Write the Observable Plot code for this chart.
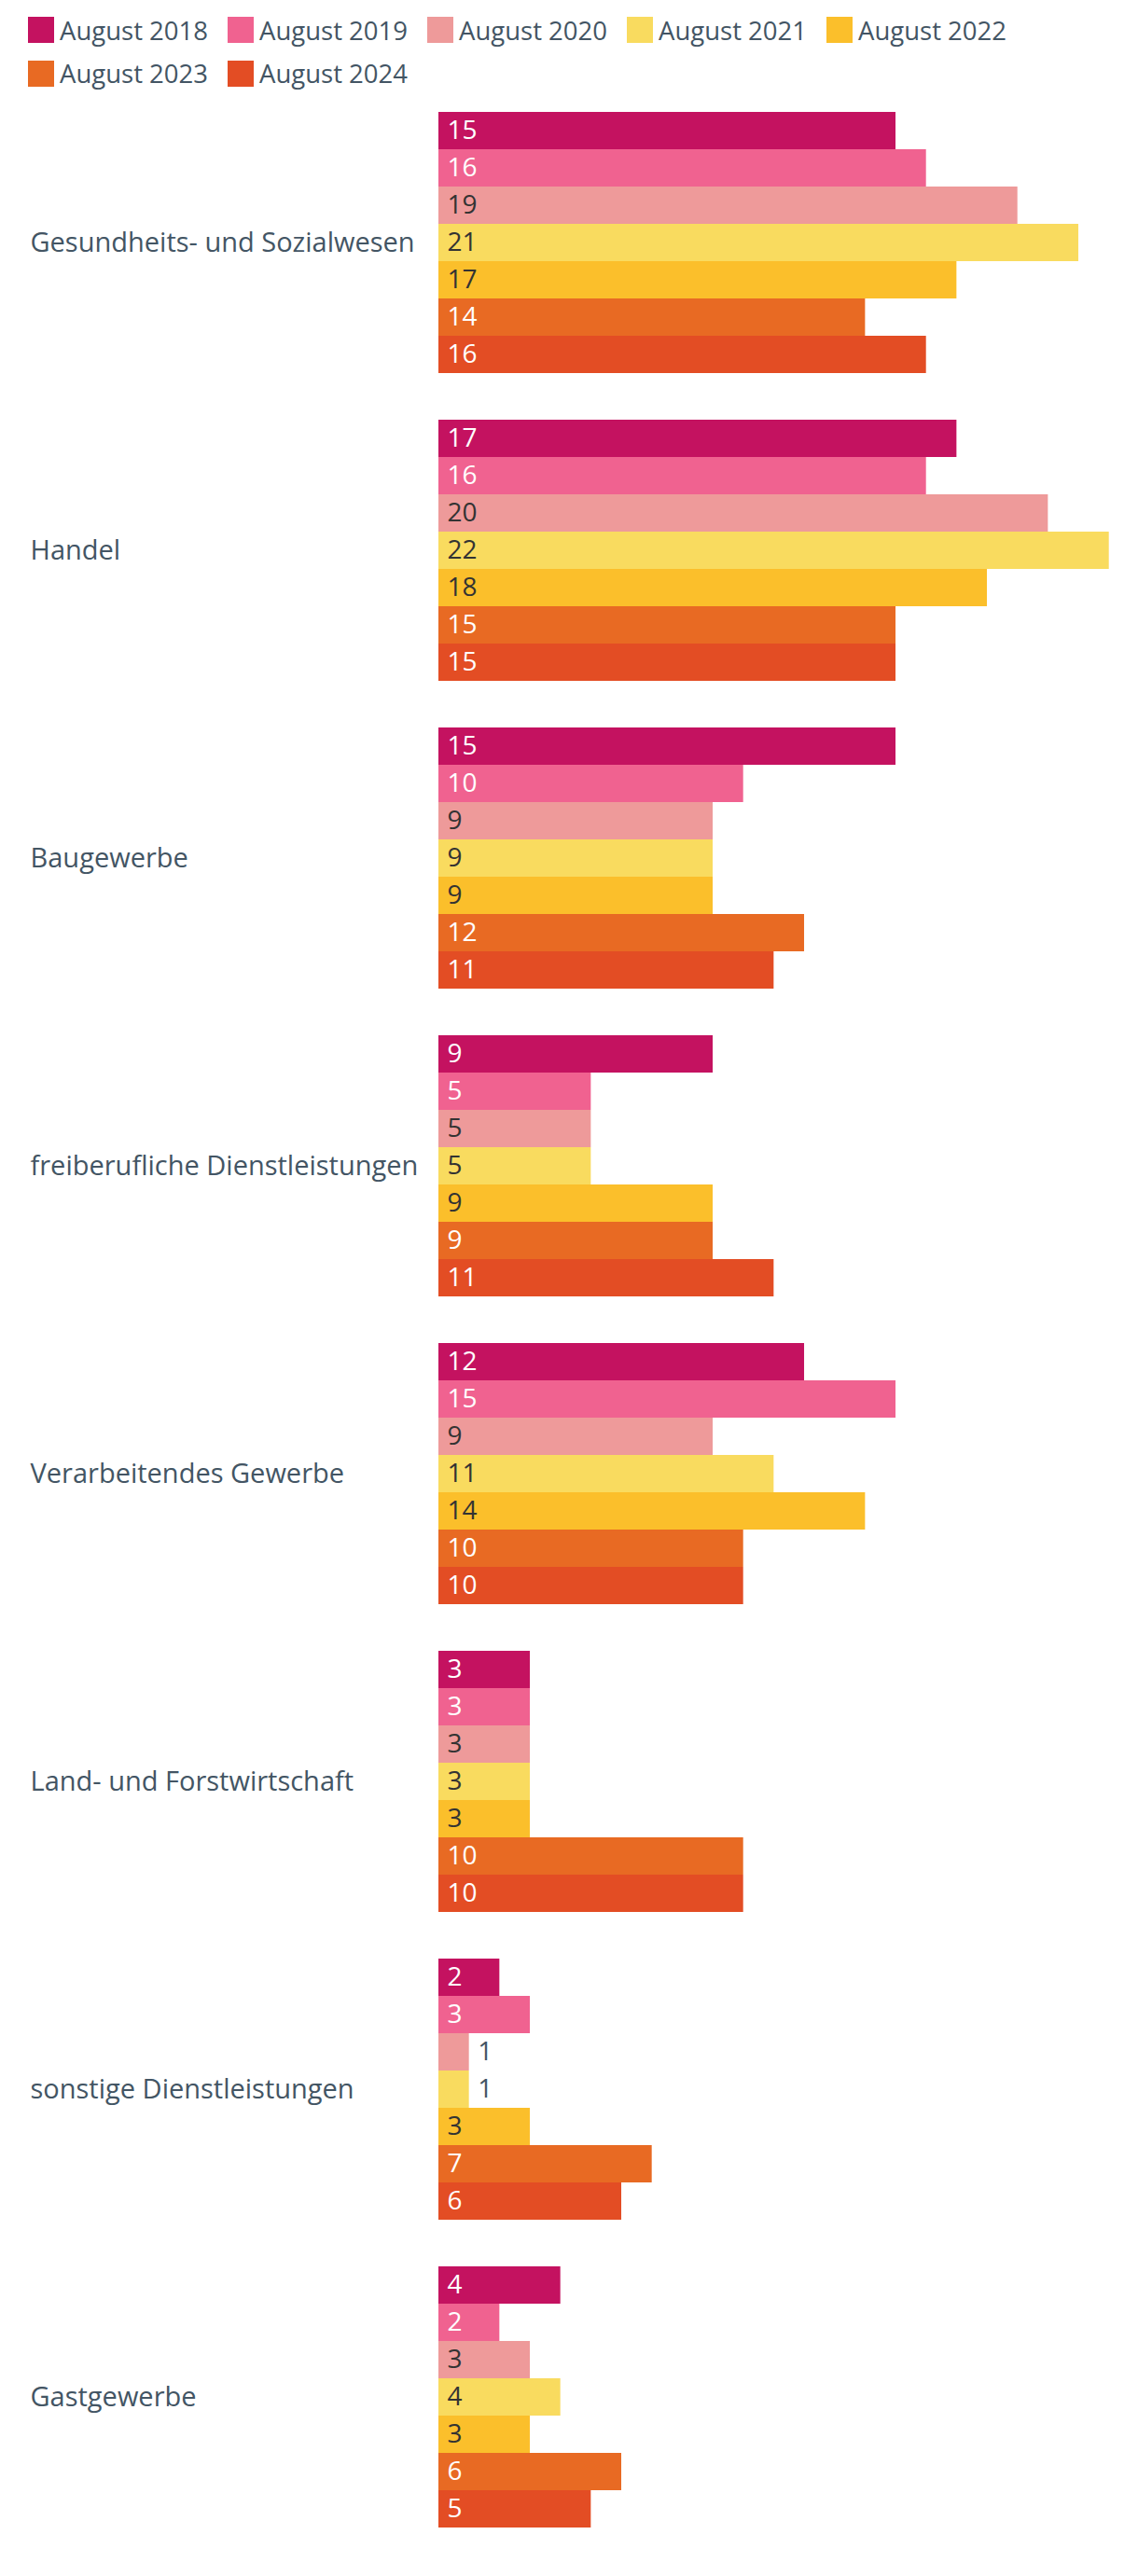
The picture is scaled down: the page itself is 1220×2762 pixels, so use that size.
<!DOCTYPE html>
<html>
<head>
<meta charset="utf-8">
<script src="https://cdn.jsdelivr.net/npm/d3@7"></script>
<script src="https://cdn.jsdelivr.net/npm/@observablehq/plot@0.6"></script>
<style>
  html, body { margin: 0; padding: 0; background: #fff; }
  #legend { height: 95px; box-sizing: border-box; padding: 18px 0 0 30px; display: flex; flex-wrap: wrap; row-gap: 16px; width: 1200px; }
  .item { display: inline-flex; align-items: center; height: 28px; margin-right: 21px; color: #435564; }
  .sw { width: 28px; height: 28px; margin-right: 6px; flex: none; }
</style>
</head>
<body>
<div id="legend"></div>
<div id="chart"></div>
<script>
const categories = [
  "Gesundheits- und Sozialwesen",
  "Handel",
  "Baugewerbe",
  "freiberufliche Dienstleistungen",
  "Verarbeitendes Gewerbe",
  "Land- und Forstwirtschaft",
  "sonstige Dienstleistungen",
  "Gastgewerbe"
];
const years = ["August 2018", "August 2019", "August 2020", "August 2021", "August 2022", "August 2023", "August 2024"];
const colors = ["#c41260", "#f06290", "#ee9a9a", "#f9db5f", "#fbbf2b", "#e86a23", "#e34d24"];
const lightYears = ["August 2020", "August 2021", "August 2022"];

const v2018 = [15, 17, 15, 9, 12, 3, 2, 4];
const v2019 = [16, 16, 10, 5, 15, 3, 3, 2];
const v2020 = [19, 20, 9, 5, 9, 3, 1, 3];
const v2021 = [21, 22, 9, 5, 11, 3, 1, 4];
const v2022 = [17, 18, 9, 9, 14, 3, 3, 3];
const v2023 = [14, 15, 12, 9, 10, 10, 7, 6];
const v2024 = [16, 15, 11, 11, 10, 10, 6, 5];
const series = [v2018, v2019, v2020, v2021, v2022, v2023, v2024];

const FONT = "'Open Sans', sans-serif";
const FS_LABEL = 29;
const FS_VALUE = 28;
const FS_LEGEND = 27.5;

const data = categories.flatMap((c, i) => years.map((y, j) => ({category: c, year: y, value: series[j][i]})));

// legend
const legend = document.getElementById("legend");
legend.style.fontFamily = FONT;
legend.style.fontSize = FS_LEGEND + "px";
years.forEach((y, j) => {
  const it = document.createElement("span");
  it.className = "item";
  const sw = document.createElement("span");
  sw.className = "sw";
  sw.style.background = colors[j];
  it.appendChild(sw);
  it.appendChild(document.createTextNode(y));
  legend.appendChild(it);
});

const inside = d => d.value >= 2;
const chart = Plot.plot({
  width: 1220,
  height: 2667,
  marginTop: 0,
  marginBottom: 27,
  marginLeft: 470,
  marginRight: 31.3,
  x: {domain: [0, 22], axis: null},
  y: {domain: years, axis: null, padding: 0},
  fy: {domain: categories, axis: null, paddingInner: 50 / 330, paddingOuter: 25 / 330},
  color: {domain: years, range: colors},
  style: {fontFamily: FONT, fontSize: FS_VALUE + "px", background: "#fff"},
  marks: [
    Plot.barX(data, {x: "value", y: "year", fy: "category", fill: "year"}),
    Plot.text(data.filter(d => inside(d) && !lightYears.includes(d.year)), {x: () => 0, y: "year", fy: "category", text: d => String(d.value), textAnchor: "start", dx: 9, fill: "#ffffff", fontSize: FS_VALUE}),
    Plot.text(data.filter(d => inside(d) && lightYears.includes(d.year)), {x: () => 0, y: "year", fy: "category", text: d => String(d.value), textAnchor: "start", dx: 9, fill: "#333333", fontSize: FS_VALUE}),
    Plot.text(data.filter(d => !inside(d)), {x: "value", y: "year", fy: "category", text: d => String(d.value), textAnchor: "start", dx: 9, fill: "#435564", fontSize: FS_VALUE}),
    Plot.text(categories, {fy: d => d, text: d => d, frameAnchor: "left", textAnchor: "start", dx: -438, fill: "#435564", fontSize: FS_LABEL})
  ]
});
document.getElementById("chart").appendChild(chart);
</script>
</body>
</html>
